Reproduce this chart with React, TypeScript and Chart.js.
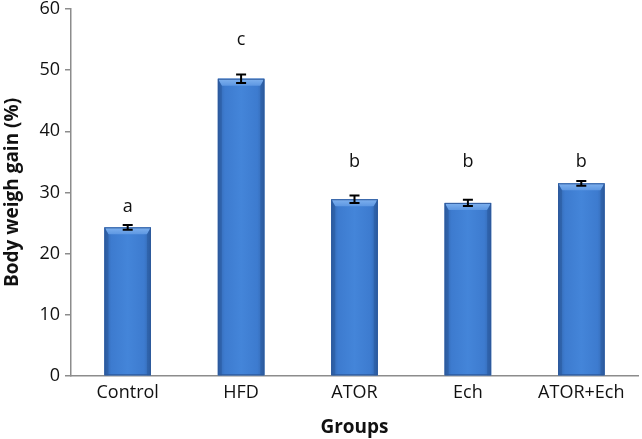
import React, { useEffect, useRef } from "react";
import { Chart, registerables } from "chart.js";

Chart.register(...registerables);

const categories = ["Control", "HFD", "ATOR", "Ech", "ATOR+Ech"];
const values = [24.3, 48.6, 28.9, 28.3, 31.5];
const errors = [0.4, 0.7, 0.6, 0.5, 0.4];
const letters = ["a", "c", "b", "b", "b"];
const letterY = [27.6, 54.9, 35.0, 35.0, 35.0];
const yTicks = [0, 10, 20, 30, 40, 50, 60];

const FONT = "'Open Sans', 'DejaVu Sans', sans-serif";

const bevelPlugin = {
  id: "bevel",
  afterDatasetsDraw(chart: any) {
    const ctx = chart.ctx;
    const meta = chart.getDatasetMeta(0);
    meta.data.forEach((bar: any) => {
      const { x, y, base, width } = bar.getProps(["x", "y", "base", "width"], true);
      const l = x - width / 2;
      const r = x + width / 2;
      const t = y;
      const b = base;
      ctx.save();
      const g = ctx.createLinearGradient(l, 0, r, 0);
      g.addColorStop(0, "#3266ae");
      g.addColorStop(0.15, "#3d7bcf");
      g.addColorStop(0.5, "#4485d9");
      g.addColorStop(0.85, "#3d7bcf");
      g.addColorStop(1, "#3266ae");
      ctx.fillStyle = g;
      ctx.fillRect(l, t, width, b - t);
      const bev = 4;
      ctx.beginPath();
      ctx.moveTo(l, t);
      ctx.lineTo(r, t);
      ctx.lineTo(r - bev, t + bev + 3);
      ctx.lineTo(l + bev, t + bev + 3);
      ctx.closePath();
      const tg = ctx.createLinearGradient(0, t, 0, t + bev + 3);
      tg.addColorStop(0, "#80b2ef");
      tg.addColorStop(1, "#5d97e2");
      ctx.fillStyle = tg;
      ctx.fill();
      ctx.beginPath();
      ctx.moveTo(l, t);
      ctx.lineTo(l + bev, t + bev + 3);
      ctx.lineTo(l + bev, b);
      ctx.lineTo(l, b);
      ctx.closePath();
      ctx.fillStyle = "rgba(30,70,130,0.3)";
      ctx.fill();
      ctx.beginPath();
      ctx.moveTo(r, t);
      ctx.lineTo(r - bev, t + bev + 3);
      ctx.lineTo(r - bev, b);
      ctx.lineTo(r, b);
      ctx.closePath();
      ctx.fillStyle = "rgba(30,70,130,0.3)";
      ctx.fill();
      ctx.strokeStyle = "#2e5a9c";
      ctx.lineWidth = 1;
      ctx.strokeRect(l + 0.5, t + 0.5, width - 1, b - t - 1);
      ctx.restore();
    });
  },
};

const errorPlugin = {
  id: "errs",
  afterDatasetsDraw(chart: any) {
    const ctx = chart.ctx;
    const ys = chart.scales.y;
    const meta = chart.getDatasetMeta(0);
    ctx.save();
    meta.data.forEach((bar: any, i: number) => {
      const x = bar.x;
      const hi = ys.getPixelForValue(values[i] + errors[i]);
      const lo = ys.getPixelForValue(values[i] - errors[i]);
      ctx.strokeStyle = "#000";
      ctx.lineWidth = 2;
      ctx.beginPath();
      ctx.moveTo(x, hi);
      ctx.lineTo(x, lo);
      ctx.moveTo(x - 5, hi);
      ctx.lineTo(x + 5, hi);
      ctx.moveTo(x - 5, lo);
      ctx.lineTo(x + 5, lo);
      ctx.stroke();
    });
    ctx.fillStyle = "#111";
    ctx.font = `18px ${FONT}`;
    ctx.textAlign = "center";
    ctx.textBaseline = "middle";
    meta.data.forEach((bar: any, i: number) => {
      ctx.fillText(letters[i], bar.x, ys.getPixelForValue(letterY[i]));
    });
    ctx.restore();
  },
};

export default function App() {
  const ref = useRef<HTMLCanvasElement>(null);
  useEffect(() => {
    document.body.style.margin = "0";
    const chart = new Chart(ref.current!, {
      type: "bar",
      data: {
        labels: categories,
        datasets: [
          {
            data: values,
            backgroundColor: "#3f7fd6",
            borderWidth: 0,
            categoryPercentage: 1,
            barPercentage: 0.41,
          },
        ],
      },
      options: {
        responsive: false,
        animation: false,
        layout: { padding: { top: 9, right: 4, left: 0, bottom: 0 } },
        plugins: { legend: { display: false }, tooltip: { enabled: false } },
        scales: {
          x: {
            grid: { drawOnChartArea: false, drawTicks: false },
            border: { color: "#8c8c8c", width: 1.5 },
            ticks: { color: "#111", font: { family: FONT, size: 18 }, padding: 6 },
            title: {
              display: true,
              text: "Groups",
              color: "#111",
              font: { family: FONT, size: 19, weight: "bold" },
              padding: { top: 2, bottom: 0 },
            },
            afterFit(scale: any) {
              scale.height = 63;
              scale.paddingLeft = 0;
              scale.paddingRight = 0;
            },
          },
          y: {
            min: 0,
            max: 60,
            afterBuildTicks(scale: any) {
              scale.ticks = yTicks.map((v) => ({ value: v }));
            },
            grid: { drawOnChartArea: false, drawTicks: true, tickLength: 6, color: "#8c8c8c", lineWidth: 1.5 },
            border: { color: "#8c8c8c", width: 1.5 },
            ticks: { color: "#111", font: { family: FONT, size: 18 }, padding: 5 },
            title: {
              display: true,
              text: "Body weigh gain (%)",
              color: "#111",
              font: { family: FONT, size: 19, weight: "bold" },
              padding: { top: 1, bottom: 0 },
            },
            afterFit(scale: any) {
              scale.width = 71;
              scale.paddingTop = 0;
              scale.paddingBottom = 0;
            },
          },
        },
      },
      plugins: [bevelPlugin, errorPlugin],
    } as any);
    return () => chart.destroy();
  }, []);
  return (
    <div style={{ width: 642, height: 439 }}>
      <canvas ref={ref} width={642} height={439} />
    </div>
  );
}
